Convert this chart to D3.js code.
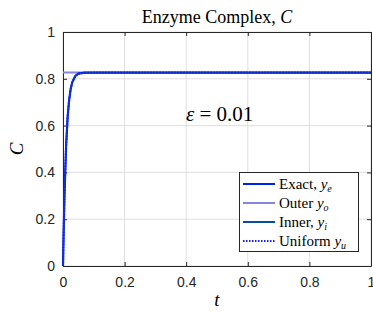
<!DOCTYPE html>
<html>
<head>
<meta charset="utf-8">
<script src="https://cdn.jsdelivr.net/npm/d3@7"></script>
<style>
  body { margin: 0; background: #fff; }
  .tick text { font-family: "Liberation Sans", Arial, sans-serif; font-size: 14px; fill: #262626; }
  .serif { font-family: "Liberation Serif", "Times New Roman", serif; fill: #000; }
</style>
</head>
<body>
<svg width="373" height="312"></svg>
<script>
const svg = d3.select("svg");

// values
const tExact = [0, 0.002, 0.005, 0.01, 0.015, 0.02, 0.025, 0.03, 0.04, 0.05, 0.07, 0.1, 0.2, 0.4, 0.6, 0.8, 1];
const cExact = [0, 0.14, 0.31, 0.51, 0.635, 0.71, 0.757, 0.785, 0.812, 0.822, 0.826, 0.8264, 0.8264, 0.8264, 0.8264, 0.8264, 0.8264];
const tOuter = [0, 1];
const cOuter = [0.8264, 0.8264];
const xTicks = [0, 0.2, 0.4, 0.6, 0.8, 1];
const yTicks = [0, 0.2, 0.4, 0.6, 0.8, 1];
const legendLabels = ["Exact, ", "Outer ", "Inner, ", "Uniform "];
const legendSubs = ["e", "o", "i", "u"];

const mLeft = 63, mRight = 371, mTop = 32, mBottom = 266;
const x = d3.scaleLinear().domain([0, 1]).range([mLeft, mRight]);
const y = d3.scaleLinear().domain([0, 1]).range([mBottom, mTop]);

// grid
svg.append("g").selectAll("line").data(xTicks).enter().append("line")
  .attr("x1", d => x(d)).attr("x2", d => x(d)).attr("y1", mTop).attr("y2", mBottom)
  .attr("stroke", "#dfdfdf").attr("stroke-width", 1);
svg.append("g").selectAll("line").data(yTicks).enter().append("line")
  .attr("y1", d => y(d)).attr("y2", d => y(d)).attr("x1", mLeft).attr("x2", mRight)
  .attr("stroke", "#dfdfdf").attr("stroke-width", 1);

// axes
const fmt = d => d3.format("~g")(d);
svg.append("g").attr("transform", `translate(0,${mBottom})`)
  .call(d3.axisBottom(x).tickValues(xTicks).tickFormat(fmt).tickSizeInner(-4).tickSizeOuter(0).tickPadding(11));
svg.append("g").attr("transform", `translate(${mLeft},0)`)
  .call(d3.axisLeft(y).tickValues(yTicks).tickFormat(fmt).tickSizeInner(-4).tickSizeOuter(0).tickPadding(8));
svg.append("g").attr("transform", `translate(0,${mTop})`)
  .call(d3.axisTop(x).tickValues(xTicks).tickFormat("").tickSizeInner(-4).tickSizeOuter(0));
svg.append("g").attr("transform", `translate(${mRight},0)`)
  .call(d3.axisRight(y).tickValues(yTicks).tickFormat("").tickSizeInner(-4).tickSizeOuter(0));
svg.selectAll(".domain, .tick line").attr("stroke", "#262626");

// lines
const line = d3.line().x(d => x(d[0])).y(d => y(d[1]));
const exact = tExact.map((t, i) => [t, cExact[i]]);
const outer = tOuter.map((t, i) => [t, cOuter[i]]);

svg.append("path").datum(outer).attr("d", line).attr("fill", "none")
  .attr("stroke", "#8585dd").attr("stroke-width", 2);
svg.append("path").datum(exact).attr("d", line).attr("fill", "none")
  .attr("stroke", "#0020ee").attr("stroke-width", 2.2);
svg.append("path").datum(exact).attr("d", line).attr("fill", "none")
  .attr("stroke", "#0a4aa0").attr("stroke-width", 1.4);
svg.append("path").datum(exact).attr("d", line).attr("fill", "none")
  .attr("stroke", "#1a1aff").attr("stroke-width", 2).attr("stroke-dasharray", "1.5,1.5");

// title and labels
svg.append("text").attr("class", "serif").attr("x", 217).attr("y", 23)
  .attr("text-anchor", "middle").attr("font-size", 18)
  .html('Enzyme Complex, <tspan font-style="italic">C</tspan>');
svg.append("text").attr("class", "serif").attr("x", x(0.5)).attr("y", 306)
  .attr("text-anchor", "middle").attr("font-size", 19).attr("font-style", "italic").text("t");
svg.append("text").attr("class", "serif")
  .attr("transform", `translate(23,${y(0.5)}) rotate(-90)`)
  .attr("text-anchor", "middle").attr("font-size", 19).attr("font-style", "italic").text("C");
svg.append("text").attr("class", "serif").attr("x", 186).attr("y", 121).attr("font-size", 21)
  .html('<tspan font-style="italic">ε</tspan> = 0.01');

// legend
const lg = svg.append("g");
lg.append("rect").attr("x", 239.5).attr("y", 172.5).attr("width", 119).attr("height", 79)
  .attr("fill", "#fff").attr("stroke", "#262626").attr("stroke-width", 1);
const styles = [
  { c: "#0020ee", w: 2, dash: null },
  { c: "#8585dd", w: 2, dash: null },
  { c: "#0a4aa0", w: 2, dash: null },
  { c: "#1a1aff", w: 2, dash: "1.5,1.5" }
];
const rows = lg.selectAll("g.row").data(legendLabels).enter().append("g")
  .attr("transform", (d, i) => `translate(0,${184 + i * 19})`);
rows.append("line").attr("x1", 243).attr("x2", 275).attr("y1", 0).attr("y2", 0)
  .attr("stroke", (d, i) => styles[i].c).attr("stroke-width", (d, i) => styles[i].w)
  .attr("stroke-dasharray", (d, i) => styles[i].dash);
rows.append("text").attr("class", "serif").attr("x", 279).attr("y", 5).attr("font-size", 15)
  .html((d, i) => `${d}<tspan font-style="italic">y</tspan><tspan font-style="italic" font-size="10" dy="3">${legendSubs[i]}</tspan>`);
</script>
</body>
</html>
